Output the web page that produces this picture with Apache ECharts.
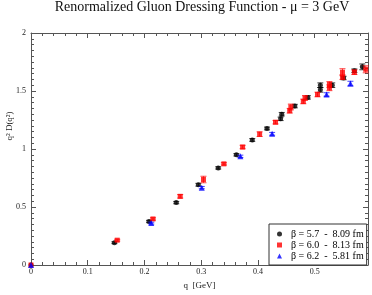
<!DOCTYPE html>
<html><head><meta charset="utf-8">
<script src="https://cdn.jsdelivr.net/npm/echarts@6/dist/echarts.min.js"></script>
<style>html,body{margin:0;padding:0;background:#fff}#c{width:372px;height:295px}</style>
</head><body><div id="c"></div>
<script>
// ---- data (q in GeV, q^2 D(q^2), error) ----
const seriesNames = ['β = 5.7  -  8.09 fm', 'β = 6.0  -  8.13 fm', 'β = 6.2  -  5.81 fm'];
const qBlack = [0, 0.147, 0.208, 0.256, 0.295, 0.330, 0.362, 0.390, 0.416, 0.440, 0.442, 0.465, 0.488, 0.510, 0.510, 0.531, 0.551, 0.570, 0.584];
const vBlack = [0, 0.192, 0.375, 0.538, 0.692, 0.837, 0.950, 1.078, 1.177, 1.260, 1.300, 1.370, 1.445, 1.510, 1.550, 1.550, 1.612, 1.675, 1.708];
const eBlack = [0, 0.008, 0.010, 0.010, 0.012, 0.010, 0.010, 0.012, 0.012, 0.015, 0.015, 0.015, 0.015, 0.020, 0.020, 0.020, 0.015, 0.015, 0.025];
const qRed = [0, 0.152, 0.215, 0.263, 0.304, 0.340, 0.373, 0.403, 0.431, 0.456, 0.458, 0.480, 0.483, 0.505, 0.526, 0.526, 0.549, 0.549, 0.570, 0.590];
const vRed = [0, 0.214, 0.397, 0.592, 0.737, 0.872, 1.017, 1.128, 1.231, 1.330, 1.362, 1.410, 1.440, 1.470, 1.528, 1.556, 1.620, 1.662, 1.662, 1.687];
const eRed = [0, 0.008, 0.010, 0.015, 0.028, 0.010, 0.015, 0.020, 0.015, 0.020, 0.025, 0.020, 0.020, 0.020, 0.025, 0.025, 0.020, 0.030, 0.020, 0.030];
const qBlue = [0, 0.212, 0.301, 0.369, 0.425, 0.521, 0.563];
const vBlue = [0, 0.361, 0.667, 0.937, 1.131, 1.470, 1.564];
const eBlue = [0, 0.008, 0.010, 0.010, 0.012, 0.015, 0.020];
const xTickValues = [0, 0.1, 0.2, 0.3, 0.4, 0.5];
const yTickValues = [0, 0.5, 1, 1.5, 2];

const FONT = "'Liberation Serif','Times New Roman',serif";
const AX = '#555';
const pts = (q, v) => q.map((x, i) => [x, v[i]]);
const errs = (q, v, e) => q.map((x, i) => [x, v[i] - e[i], v[i] + e[i]]);

function errItem(color) {
  return function (params, api) {
    const x = api.value(0), lo = api.value(1), hi = api.value(2);
    if (hi - lo <= 0) return null;
    const a = api.coord([x, hi]), b = api.coord([x, lo]);
    const w = 3;
    const st = { stroke: color, lineWidth: 1, opacity: 0.75 };
    return { type: 'group', children: [
      { type: 'line', shape: { x1: a[0], y1: a[1], x2: b[0], y2: b[1] }, style: st },
      { type: 'line', shape: { x1: a[0] - w, y1: a[1], x2: a[0] + w, y2: a[1] }, style: st },
      { type: 'line', shape: { x1: b[0] - w, y1: b[1], x2: b[0] + w, y2: b[1] }, style: st }
    ]};
  };
}

const colors = ['#000000', '#ff0000', '#0000ff'];
const symbols = ['circle', 'rect', 'triangle'];
const sizes = [5, 5, 6];
const Q = [qBlack, qRed, qBlue], V = [vBlack, vRed, vBlue], E = [eBlack, eRed, eBlue];

const series = [];
for (let k = 0; k < 3; k++) {
  series.push({
    type: 'custom', name: 'err' + k, renderItem: errItem(colors[k]),
    data: errs(Q[k], V[k], E[k]), encode: { x: 0, y: [1, 2] }, z: 2 + k * 2, silent: true
  });
  series.push({
    type: 'scatter', name: seriesNames[k], symbol: symbols[k], symbolSize: sizes[k],
    itemStyle: { color: colors[k] }, data: pts(Q[k], V[k]), clip: false, z: 3 + k * 2
  });
}

const xBase = {
  type: 'value', min: 0, max: 0.594, interval: 0.1, gridIndex: 0,
  axisLine: { show: true, onZero: false, lineStyle: { color: AX, width: 1 } },
  axisTick: { show: true, inside: true, length: 5, lineStyle: { color: AX } },
  minorTick: { show: true, splitNumber: 5, length: 3, lineStyle: { color: AX } },
  splitLine: { show: false }, minorSplitLine: { show: false }
};
const yBase = {
  type: 'value', min: 0, max: 2, interval: 0.5, gridIndex: 0,
  axisLine: { show: true, onZero: false, lineStyle: { color: AX, width: 1 } },
  axisTick: { show: true, inside: true, length: 5, lineStyle: { color: AX } },
  minorTick: { show: true, splitNumber: 10, length: 3, lineStyle: { color: AX } },
  splitLine: { show: false }, minorSplitLine: { show: false }
};

const chart = echarts.init(document.getElementById('c'), null, { renderer: 'canvas' });
chart.setOption({
  animation: false,
  backgroundColor: '#fff',
  grid: { left: 31, right: 4, top: 33, bottom: 22 },
  xAxis: [
    Object.assign({}, xBase, { position: 'bottom',
      axisLabel: { show: true, fontFamily: FONT, fontSize: 8, color: '#222', margin: 3, showMaxLabel: false,
        formatter: v => xTickValues.some(t => Math.abs(t - v) < 1e-9) ? String(+v.toFixed(1)) : '' },
      name: 'q  [GeV]', nameLocation: 'middle', nameGap: 16,
      nameTextStyle: { fontFamily: FONT, fontSize: 9, color: '#222' } }),
    Object.assign({}, xBase, { position: 'top', axisLabel: { show: false } })
  ],
  yAxis: [
    Object.assign({}, yBase, { position: 'left',
      axisLabel: { show: true, fontFamily: FONT, fontSize: 8, color: '#222', margin: 5,
        formatter: v => yTickValues.some(t => Math.abs(t - v) < 1e-9) ? String(v) : '' } }),
    Object.assign({}, yBase, { position: 'right', axisLabel: { show: false } })
  ],
  legend: {
    orient: 'vertical', left: 269, top: 224,
    itemWidth: 5, itemHeight: 5, itemGap: 1,
    padding: [5, 3, 4, 8],
    borderColor: '#333', borderWidth: 1, backgroundColor: '#fff',
    textStyle: { fontFamily: FONT, fontSize: 10, color: '#000', padding: [0, 0, 0, 4], lineHeight: 9 },
    data: seriesNames.map((n, i) => ({ name: n, icon: symbols[i] })),
    selectedMode: false
  },
  graphic: [
    { type: 'text', x: 202, y: 7, z: 100,
      style: { text: 'Renormalized Gluon Dressing Function - μ = 3 GeV', font: '14px ' + FONT, fill: '#111', textAlign: 'center', textVerticalAlign: 'middle' } },
    { type: 'text', x: 10, y: 126, rotation: Math.PI / 2, z: 100,
      style: { text: 'q² D(q²)', font: '9px ' + FONT, fill: '#222', textAlign: 'center', textVerticalAlign: 'middle' } }
  ],
  series: series
});
</script></body></html>
